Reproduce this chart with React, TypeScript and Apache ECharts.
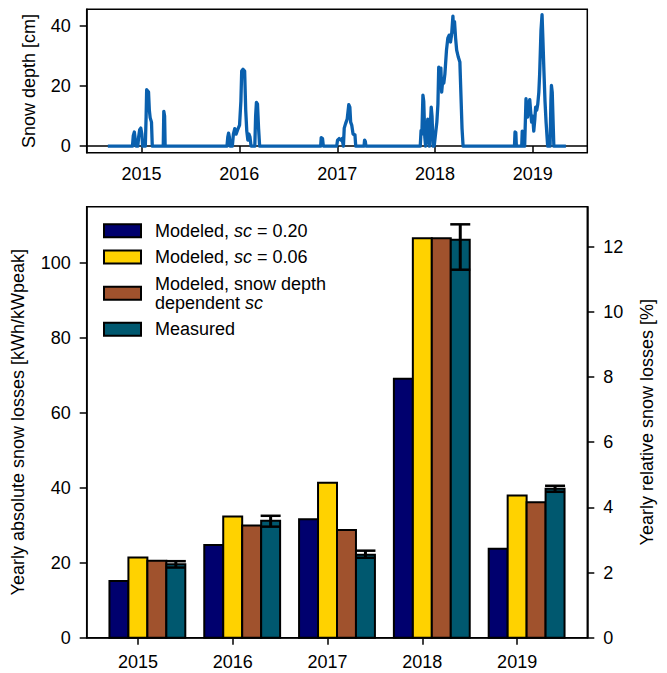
import React, { useEffect, useRef } from "react";
import * as echarts from "echarts";

// ---- Top panel: snow depth time series [date, cm] ----
const snowDepth: [string, number][] = [
  ["2014-08-28", 0], ["2014-11-28", 0], ["2014-12-01", 3.5], ["2014-12-05", 4.7], ["2014-12-08", 2.5], ["2014-12-11", 0],
  ["2014-12-18", 0], ["2014-12-21", 3], ["2014-12-25", 5.5], ["2014-12-29", 6], ["2015-01-02", 4], ["2015-01-05", 0],
  ["2015-01-15", 0], ["2015-01-18", 10], ["2015-01-20", 18.8], ["2015-01-27", 18], ["2015-01-30", 12], ["2015-02-02", 9.5],
  ["2015-02-07", 8], ["2015-02-10", 0], ["2015-03-23", 0], ["2015-03-25", 11.6], ["2015-03-28", 10], ["2015-03-30", 0],
  ["2015-11-16", 0], ["2015-11-19", 3], ["2015-11-22", 4.3], ["2015-11-25", 3], ["2015-11-28", 0], ["2015-12-06", 0],
  ["2015-12-10", 4], ["2015-12-15", 5.8], ["2015-12-20", 4], ["2015-12-26", 5.5], ["2016-01-02", 7], ["2016-01-07", 15],
  ["2016-01-10", 25], ["2016-01-15", 25.6], ["2016-01-21", 25], ["2016-01-25", 12], ["2016-01-29", 5], ["2016-02-02", 2],
  ["2016-02-06", 4], ["2016-02-10", 3], ["2016-02-14", 0], ["2016-02-28", 0], ["2016-03-02", 10], ["2016-03-05", 14.6],
  ["2016-03-09", 14], ["2016-03-13", 6], ["2016-03-17", 0],
  ["2016-10-31", 0], ["2016-11-02", 2.8], ["2016-11-07", 2.5], ["2016-11-10", 0], ["2016-12-30", 0], ["2017-01-02", 2],
  ["2017-01-08", 2.5], ["2017-01-14", 2], ["2017-01-19", 2.5], ["2017-01-24", 0], ["2017-01-27", 6], ["2017-02-01", 7.5],
  ["2017-02-07", 9], ["2017-02-13", 13.8], ["2017-02-17", 13], ["2017-02-20", 8], ["2017-02-24", 7], ["2017-03-01", 4],
  ["2017-03-08", 3.8], ["2017-03-11", 0], ["2017-04-11", 0], ["2017-04-13", 2], ["2017-04-16", 1.5], ["2017-04-18", 0],
  ["2017-11-07", 0], ["2017-11-10", 5.2], ["2017-11-13", 4], ["2017-11-17", 17], ["2017-11-20", 15], ["2017-11-24", 3],
  ["2017-11-27", 0], ["2017-12-01", 3], ["2017-12-05", 9], ["2017-12-08", 6], ["2017-12-11", 0], ["2017-12-14", 6],
  ["2017-12-18", 13], ["2017-12-21", 10], ["2017-12-25", 0], ["2017-12-29", 0], ["2018-01-03", 4], ["2018-01-08", 8],
  ["2018-01-12", 14], ["2018-01-15", 26.3], ["2018-01-19", 25], ["2018-01-23", 26], ["2018-01-26", 18], ["2018-01-30", 22],
  ["2018-02-03", 21], ["2018-02-07", 24], ["2018-02-13", 32], ["2018-02-18", 36], ["2018-02-23", 37], ["2018-02-28", 34.7],
  ["2018-03-04", 37], ["2018-03-09", 43.3], ["2018-03-12", 38], ["2018-03-15", 41.5], ["2018-03-19", 36], ["2018-03-23", 32],
  ["2018-03-29", 29.7], ["2018-04-04", 28], ["2018-04-12", 6], ["2018-04-16", 0],
  ["2018-10-25", 0], ["2018-10-27", 4.7], ["2018-10-30", 4.5], ["2018-11-01", 0], ["2018-11-21", 0], ["2018-11-23", 5],
  ["2018-11-26", 4.5], ["2018-11-28", 0], ["2018-12-02", 0], ["2018-12-07", 15.8], ["2018-12-10", 12], ["2018-12-13", 9.7],
  ["2018-12-17", 14], ["2018-12-21", 15.5], ["2018-12-24", 12], ["2018-12-28", 8], ["2019-01-01", 10], ["2019-01-05", 5],
  ["2019-01-09", 9], ["2019-01-12", 13], ["2019-01-16", 12], ["2019-01-20", 14], ["2019-01-24", 18], ["2019-01-27", 24],
  ["2019-02-01", 38.6], ["2019-02-05", 43.8], ["2019-02-08", 36], ["2019-02-12", 25], ["2019-02-16", 15], ["2019-02-20", 8],
  ["2019-02-26", 0], ["2019-03-07", 0], ["2019-03-10", 15], ["2019-03-12", 20.2], ["2019-03-15", 18], ["2019-03-21", 0],
  ["2019-05-05", 0],
];
const topYTicks = [0, 20, 40];
const topXTickYears = [2015, 2016, 2017, 2018, 2019];

// ---- Bottom panel: yearly losses [kWh/kWpeak] ----
const years = [2015, 2016, 2017, 2018, 2019];
const modeled020 = [15.1, 24.7, 31.6, 69.0, 23.7];
const modeled006 = [21.4, 32.3, 41.3, 106.5, 37.9];
const modeledDepth = [20.5, 29.9, 28.7, 106.5, 36.1];
const measured = [19.6, 31.2, 22.1, 106.1, 39.7];
const measuredLow = [18.7, 29.6, 21.3, 98.1, 38.9];
const measuredHigh = [20.4, 32.5, 23.2, 110.2, 40.5];
const leftYTicks = [0, 20, 40, 60, 80, 100];
const rightYTicks = [0, 2, 4, 6, 8, 10, 12];

const seriesNames = [
  "Modeled, sc = 0.20",
  "Modeled, sc = 0.06",
  "Modeled, snow depth dependent sc",
  "Measured",
];
const legendRich: Record<string, string> = {
  "Modeled, sc = 0.20": "{s| }{a|Modeled, }{i|sc}{a| = 0.20}",
  "Modeled, sc = 0.06": "{s| }{a|Modeled, }{i|sc}{a| = 0.06}",
  "Modeled, snow depth dependent sc": "{s| }{a|Modeled, snow depth}\n{s| }{a|dependent }{i|sc}",
  Measured: "{s| }{a|Measured}",
};
const colors = ["#00006e", "#ffd200", "#a0522d", "#00586f"];
const offsets = [-0.2, 0, 0.2, 0.4];
const BAR_W = 0.2;

const FONT = "Liberation Sans";
const txt = { fontFamily: FONT, fontSize: 18, color: "#000" };
const axisLineStyle = { lineStyle: { color: "#000", width: 1.5 } };
const tickStyle = { length: 7, lineStyle: { color: "#000", width: 1.5 } };

const toTs = (s: string) => {
  const [y, m, d] = s.split("-").map(Number);
  return new Date(y, m - 1, d).getTime();
};

export default function App() {
  const ref = useRef<HTMLDivElement>(null);
  useEffect(() => {
    document.body.style.margin = "0";
    const chart = echarts.init(ref.current!, undefined, { renderer: "svg" });
    const yearTs = topXTickYears.map((y) => new Date(y, 0, 1).getTime());
    const barData = [modeled020, modeled006, modeledDepth, measured];

    const barSeries = barData.map((vals, k) => ({
      type: "custom",
      name: seriesNames[k],
      xAxisIndex: 1,
      yAxisIndex: 1,
      z: 2,
      itemStyle: { color: colors[k], borderColor: "#000", borderWidth: 2 },
      data: years.map((y, i) => [y, vals[i]]),
      encode: { x: 0, y: 1 },
      renderItem: (_p: any, api: any) => {
        const x = api.value(0) as number;
        const v = api.value(1) as number;
        const p0 = api.coord([x + offsets[k] - BAR_W / 2, v]);
        const p1 = api.coord([x + offsets[k] + BAR_W / 2, 0]);
        return {
          type: "rect",
          shape: { x: p0[0], y: p0[1], width: p1[0] - p0[0], height: p1[1] - p0[1] },
          style: { fill: colors[k], stroke: "#000", lineWidth: 2 },
        };
      },
    }));

    const errSeries = {
      type: "custom",
      xAxisIndex: 1,
      yAxisIndex: 1,
      z: 5,
      data: years.map((y, i) => [y, measuredLow[i], measuredHigh[i]]),
      encode: { x: 0, y: [1, 2] },
      renderItem: (_p: any, api: any) => {
        const x = (api.value(0) as number) + offsets[3];
        const lo = api.coord([x, api.value(1)]);
        const hi = api.coord([x, api.value(2)]);
        const cap = 10;
        const st = { stroke: "#000", lineWidth: 3 };
        return {
          type: "group",
          children: [
            { type: "line", shape: { x1: lo[0], y1: lo[1], x2: hi[0], y2: hi[1] }, style: st },
            { type: "line", shape: { x1: lo[0] - cap, y1: lo[1], x2: lo[0] + cap, y2: lo[1] }, style: { ...st, lineWidth: 2.5 } },
            { type: "line", shape: { x1: hi[0] - cap, y1: hi[1], x2: hi[0] + cap, y2: hi[1] }, style: { ...st, lineWidth: 2.5 } },
          ],
        };
      },
    };

    const option: any = {
      animation: false,
      backgroundColor: "#fff",
      grid: [
        { left: 86.7, right: 79.7, top: 9.3, height: 143.4, show: true, borderColor: "#000", borderWidth: 1.5, backgroundColor: "transparent" },
        { left: 86.7, right: 79.7, top: 206.7, height: 431, show: true, borderColor: "#000", borderWidth: 1.5, backgroundColor: "transparent" },
      ],
      xAxis: [
        {
          type: "value",
          gridIndex: 0,
          min: new Date(2014, 5, 10).getTime(),
          max: new Date(2019, 6, 24).getTime(),
          splitLine: { show: false },
          axisLine: axisLineStyle,
          axisTick: { ...tickStyle, customValues: yearTs },
          axisLabel: {
            ...txt,
            margin: 12,
            customValues: yearTs,
            formatter: (v: number) => String(new Date(v).getFullYear()),
          },
        },
        {
          type: "value",
          gridIndex: 1,
          min: 2014.46,
          max: 2019.74,
          splitLine: { show: false },
          axisLine: axisLineStyle,
          axisTick: { ...tickStyle, customValues: years },
          axisLabel: { ...txt, margin: 15, customValues: years, formatter: (v: number) => String(v) },
        },
      ],
      yAxis: [
        {
          type: "value",
          gridIndex: 0,
          min: -2.2,
          max: 45.6,
          name: "Snow depth [cm]",
          nameLocation: "middle",
          nameRotate: 90,
          nameGap: 49,
          nameTextStyle: txt,
          splitLine: { show: false },
          axisLine: { show: true, ...axisLineStyle },
          axisTick: { show: true, ...tickStyle, customValues: topYTicks },
          axisLabel: { ...txt, margin: 16, customValues: topYTicks },
        },
        {
          type: "value",
          gridIndex: 1,
          min: 0,
          max: 114.9,
          name: "Yearly absolute snow losses [kWh/kWpeak]",
          nameLocation: "middle",
          nameRotate: 90,
          nameGap: 60,
          nameTextStyle: txt,
          splitLine: { show: false },
          axisLine: { show: true, ...axisLineStyle },
          axisTick: { show: true, ...tickStyle, customValues: leftYTicks },
          axisLabel: { ...txt, margin: 16, customValues: leftYTicks },
        },
        {
          type: "value",
          gridIndex: 1,
          position: "right",
          min: 0,
          max: 13.23,
          name: "Yearly relative snow losses [%]",
          nameLocation: "middle",
          nameRotate: 90,
          nameGap: 51,
          nameTextStyle: txt,
          splitLine: { show: false },
          axisLine: { show: true, ...axisLineStyle },
          axisTick: { show: true, ...tickStyle, customValues: rightYTicks },
          axisLabel: { ...txt, margin: 16, customValues: rightYTicks },
        },
      ],
      legend: {
        orient: "vertical",
        left: 103,
        top: 221,
        padding: 0,
        itemGap: 7,
        itemWidth: 37,
        itemHeight: 13,
        icon: "rect",
        selectedMode: false,
        data: seriesNames.map((n, k) => ({
          name: n,
          icon: "rect",
          itemStyle: { color: colors[k], borderColor: "#000", borderWidth: 2 },
        })),
        formatter: (name: string) => legendRich[name],
        textStyle: {
          ...txt,
          lineHeight: 19.4,
          rich: {
            s: { width: 9, fontFamily: FONT, fontSize: 18, lineHeight: 19.4 },
            a: { fontFamily: FONT, fontSize: 18, color: "#000", lineHeight: 19.4 },
            i: { fontFamily: FONT, fontSize: 18, color: "#000", fontStyle: "italic", lineHeight: 19.4 },
          },
        },
      },
      series: [
        {
          type: "line",
          xAxisIndex: 0,
          yAxisIndex: 0,
          data: snowDepth.map(([d, v]) => [toTs(d), v]),
          showSymbol: false,
          symbol: "none",
          lineStyle: { color: "#0a60ae", width: 3.3, join: "round" },
          itemStyle: { color: "#0a60ae" },
        },
        ...barSeries,
        errSeries,
      ],
    };
    chart.setOption(option);
    return () => chart.dispose();
  }, []);
  return <div ref={ref} style={{ position: "fixed", left: 0, top: 0, width: 667, height: 673 }} />;
}
